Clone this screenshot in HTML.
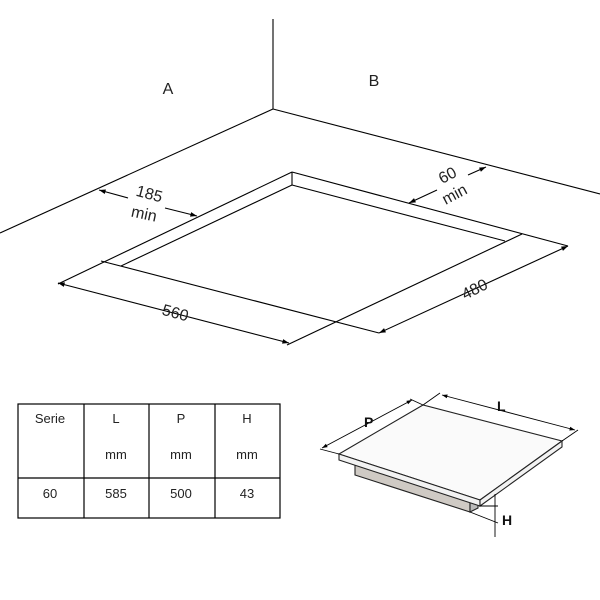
<!DOCTYPE html>
<html><head><style>
html,body{margin:0;padding:0;background:#fff;width:600px;height:600px;overflow:hidden}
</style></head><body>
<svg width="600" height="600" viewBox="0 0 600 600" xmlns="http://www.w3.org/2000/svg" font-family="Liberation Sans, DejaVu Sans, sans-serif">
<defs>
<marker id="a" viewBox="0 0 10 10" refX="10" refY="5" markerWidth="8" markerHeight="6" orient="auto-start-reverse"><path d="M0,1.5 L10,5 L0,8.5 z" fill="#000"/></marker>
</defs>
<g stroke="#000" stroke-width="1.1" fill="none">
<line x1="273" y1="19" x2="273" y2="109"/>
<line x1="273" y1="109" x2="0" y2="233"/>
<line x1="273" y1="109" x2="600" y2="194"/>
<line x1="292" y1="172" x2="58" y2="284"/>
<line x1="292" y1="172" x2="568" y2="246"/>
<line x1="292" y1="172" x2="292" y2="185"/>
<line x1="292" y1="185" x2="121" y2="266"/>
<line x1="292" y1="185" x2="505" y2="241"/>
<line x1="522" y1="234" x2="287" y2="345"/>
<line x1="101" y1="261" x2="379" y2="333"/>
<line x1="58" y1="283" x2="289" y2="343" marker-start="url(#a)" marker-end="url(#a)"/>
<line x1="379" y1="333" x2="568" y2="246" marker-start="url(#a)" marker-end="url(#a)"/>
<line x1="99" y1="190" x2="128" y2="198" marker-start="url(#a)"/>
<line x1="165" y1="208" x2="197" y2="216" marker-end="url(#a)"/>
<line x1="486" y1="167" x2="468" y2="175" marker-start="url(#a)"/>
<line x1="437" y1="190" x2="409" y2="203" marker-end="url(#a)"/>
</g>
<g font-size="16" fill="#222">
<text x="168" y="94" text-anchor="middle">A</text>
<text x="374" y="86" text-anchor="middle">B</text>
<text transform="translate(148,199) rotate(15)" text-anchor="middle">185</text>
<text transform="translate(143,219) rotate(12)" text-anchor="middle">min</text>
<text transform="translate(450,180) rotate(-28)" text-anchor="middle">60</text>
<text transform="translate(457,199) rotate(-28)" text-anchor="middle">min</text>
<text transform="translate(174,318) rotate(15)" text-anchor="middle">560</text>
<text transform="translate(477,294) rotate(-27)" text-anchor="middle">480</text>
</g>
<g stroke="#000" stroke-width="1.2" fill="none">
<rect x="18" y="404" width="262" height="114"/>
<line x1="84" y1="404" x2="84" y2="518"/>
<line x1="149" y1="404" x2="149" y2="518"/>
<line x1="215" y1="404" x2="215" y2="518"/>
<line x1="18" y1="478" x2="280" y2="478"/>
</g>
<g font-size="13" fill="#222" text-anchor="middle">
<text x="50" y="423">Serie</text>
<text x="116" y="423">L</text>
<text x="181" y="423">P</text>
<text x="247" y="423">H</text>
<text x="116" y="459">mm</text>
<text x="181" y="459">mm</text>
<text x="247" y="459">mm</text>
<text x="50" y="498">60</text>
<text x="116" y="498">585</text>
<text x="181" y="498">500</text>
<text x="247" y="498">43</text>
</g>
<g stroke="#222" stroke-width="1.1">
<polygon points="355,462 470,500 470,512 355,475" fill="#cfcac4"/>
<polygon points="470,500 478,503 478,508 470,512" fill="#bbb"/>
<polygon points="339,454 423,405 562,441 480,500" fill="#fafafa"/>
<polygon points="339,454 480,500 480,506 339,460" fill="#f2f2f2"/>
<polygon points="480,500 562,441 562,447 480,506" fill="#f2f2f2"/>
</g>
<g stroke="#000" stroke-width="0.9" fill="none">
<line x1="322" y1="448" x2="412" y2="400" marker-start="url(#a)" marker-end="url(#a)"/>
<line x1="339" y1="454" x2="320" y2="449"/>
<line x1="423" y1="405" x2="410" y2="399"/>
<line x1="442" y1="395" x2="575" y2="430" marker-start="url(#a)" marker-end="url(#a)"/>
<line x1="423" y1="405" x2="440" y2="393"/>
<line x1="562" y1="441" x2="578" y2="430"/>
<line x1="495" y1="494" x2="495" y2="537"/>
<line x1="480" y1="506" x2="498" y2="506"/>
<line x1="470" y1="512" x2="498" y2="523"/>
</g>
<g font-size="14" font-weight="bold" fill="#111">
<text x="364" y="427">P</text>
<text x="497" y="411">L</text>
<text x="502" y="525">H</text>
</g>
</svg>
</body></html>
